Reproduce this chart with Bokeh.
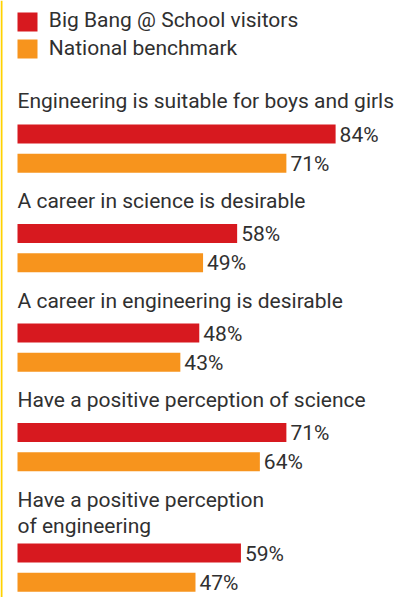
from bokeh.plotting import figure
from bokeh.models import ColumnDataSource, Range1d, BoxAnnotation
from bokeh.core.properties import value
from bokeh.embed import file_html
from bokeh.resources import INLINE

# ---- data ----
statements = [
    "Engineering is suitable for boys and girls",
    "A career in science is desirable",
    "A career in engineering is desirable",
    "Have a positive perception of science",
    "Have a positive perception\nof engineering",
]
big_bang = [84, 58, 48, 71, 59]
national = [71, 49, 43, 64, 47]
series_names = ["Big Bang @ School visitors", "National benchmark"]

# ---- style / layout ----
RED = "#D7191F"
ORANGE = "#F7941D"
YELLOW = "#FFD200"
TEXT = "#303030"
FONT = value("Roboto")
FS = "21px"

W, H = 403, 597
X0 = 17           # pixel where 0% sits
PPU = 3.787       # pixels per percent
BAR_H = 19
PAIR_GAP = 29.2
GROUP_STEP = 99.5
LINE_H = 26
FIRST_RED_TOP = 124.0
EXTRA_BAR_SHIFT = 21
FIRST_LABEL_BASE = 108.8
LABEL_STEP = 99.6
BASE_FIX = -8     # text baseline correction

p = figure(width=W, height=H, output_backend="svg", toolbar_location=None,
           x_range=Range1d(-X0 / PPU, (W - X0) / PPU),
           y_range=Range1d(H, 0), min_border=0)
p.axis.visible = False
p.grid.visible = False
p.outline_line_color = None
p.background_fill_color = "white"
p.border_fill_color = "white"

# yellow rule at the left edge
p.add_layout(BoxAnnotation(left=0, right=2, left_units="screen", right_units="screen",
                           fill_color=YELLOW, fill_alpha=1, line_alpha=0))

# positions
red_c, ora_c, lab_x, lab_y, lab_t = [], [], [], [], []
extra = 0
for i, s in enumerate(statements):
    lines = s.split("\n")
    base = FIRST_LABEL_BASE + LABEL_STEP * i + LINE_H * extra
    for k, ln in enumerate(lines):
        lab_x.append(0)
        lab_y.append(base + LINE_H * k + BASE_FIX)
        lab_t.append(ln)
    extra += len(lines) - 1
    red_top = FIRST_RED_TOP + GROUP_STEP * i + EXTRA_BAR_SHIFT * extra
    red_c.append(red_top + BAR_H / 2)
    ora_c.append(red_top + PAIR_GAP + BAR_H / 2)

src = ColumnDataSource(dict(
    red_y=red_c, ora_y=ora_c, big=big_bang, nat=national,
    red_lab_y=[c + BAR_H / 2 - 1 + BASE_FIX for c in red_c],
    ora_lab_y=[c + BAR_H / 2 - 1 + BASE_FIX for c in ora_c],
    big_t=[f"{v}%" for v in big_bang], nat_t=[f"{v}%" for v in national],
))

p.hbar(y="red_y", left=0, right="big", height=BAR_H, source=src,
       fill_color=RED, line_color=None)
p.hbar(y="ora_y", left=0, right="nat", height=BAR_H, source=src,
       fill_color=ORANGE, line_color=None)

p.text(x="big", y="red_lab_y", text="big_t", source=src, x_offset=4,
       text_font=FONT, text_font_size=FS, text_color=TEXT, text_baseline="alphabetic")
p.text(x="nat", y="ora_lab_y", text="nat_t", source=src, x_offset=4,
       text_font=FONT, text_font_size=FS, text_color=TEXT, text_baseline="alphabetic")

p.text(x=lab_x, y=lab_y, text=lab_t, text_font=FONT, text_font_size=FS,
       text_color=TEXT, text_baseline="alphabetic")

# legend (manual)
leg_sq_x = (27 - X0) / PPU
leg_txt_x = (48.3 - X0) / PPU
p.rect(x=[leg_sq_x, leg_sq_x], y=[21.5, 48.5], width=20, height=19,
       width_units="screen", height_units="screen",
       fill_color=[RED, ORANGE], line_color=None)
p.text(x=[leg_txt_x, leg_txt_x], y=[27.3 + BASE_FIX, 55.0 + BASE_FIX], text=series_names,
       text_font=FONT, text_font_size=FS, text_color=TEXT, text_baseline="alphabetic")

open("out.html", "w").write(file_html(p, INLINE))
